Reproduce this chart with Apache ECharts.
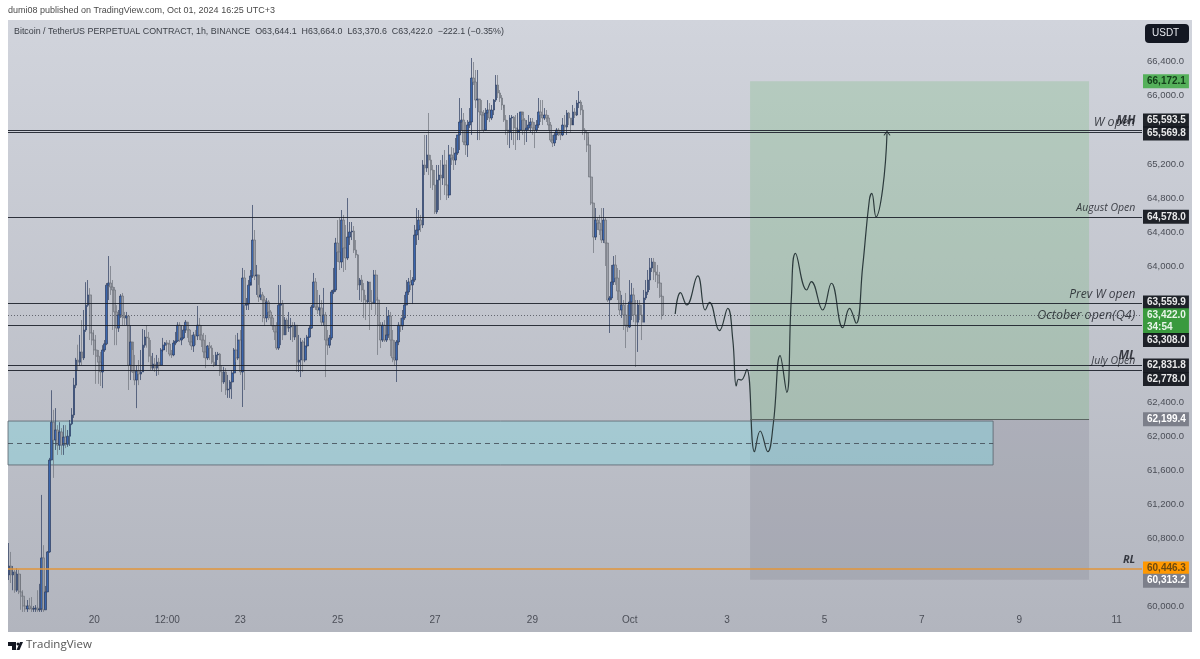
<!DOCTYPE html>
<html>
<head>
<meta charset="utf-8">
<style>html,body{margin:0;padding:0;background:#fff}#chart{width:1200px;height:659px}</style>
<script src="https://cdn.jsdelivr.net/npm/echarts@6/dist/echarts.min.js"></script>
</head>
<body>
<div id="chart"></div>
<script>
// hourly candles
let firstOpen = 60370;
let closes = [
60475,60370,60405,60190,60380,60170,60120,60005,59970,60005,
59980,59970,59970,59980,59960,59970,60570,59960,60170,60640,
61720,62165,61955,62073,61895,62050,61895,61990,61905,62000,
62145,62250,62600,62895,62870,62990,62920,63248,63540,63660,
63213,63130,63013,62940,62870,62755,63013,63085,63775,63800,
63753,63718,63460,63270,63425,63647,63400,63390,63412,62835,
63107,62755,62660,62765,62730,62755,63070,63165,63155,62940,
62800,62848,62800,62870,62835,63013,63070,63095,63083,62965,
62955,63095,63118,63305,63130,63155,63248,63340,63248,63107,
63060,63190,63178,63305,63190,63130,62990,62920,63060,63036,
62870,62835,62955,62965,62755,62637,62755,62543,62555,62637,
62743,63013,62920,63130,62755,63859,63540,63553,63775,63883,
64305,63883,63895,63635,63660,63600,63390,63577,63460,63390,
63295,63225,63036,63540,63553,63190,63365,63270,63283,63295,
63165,63305,62870,62895,63107,62895,63060,63165,63270,63518,
63812,63518,63483,63507,63340,63425,63130,63070,63155,63695,
63718,64270,64165,64047,64540,64212,64094,64340,64400,64410,
64188,64130,63777,63835,63718,63600,63577,63812,63577,63565,
63894,63600,63305,63130,63305,63130,63190,63412,63130,62920,
62895,63107,63305,63295,63390,63542,63695,63812,63777,63835,
64364,64423,64540,64482,65187,65152,65305,65245,65128,64952,
64635,65010,65069,65034,65187,64952,64834,65305,65269,65245,
65328,65540,65692,65715,65457,65422,65657,65692,66209,66162,
65950,65962,65810,65774,65598,65798,65833,65739,65833,65950,
66127,66033,65974,65892,65715,65598,65574,65739,65750,65621,
65574,65598,65810,65715,65598,65621,65657,65692,65621,65598,
65657,65810,65774,65739,65774,65739,65657,65480,65445,65540,
65598,65563,65540,65657,65633,65798,65739,65657,65810,65774,
65915,65927,65833,65598,65563,65422,65046,64740,64340,64540,
64505,64423,64305,64540,64270,63600,63624,63812,64012,63859,
63706,63483,63542,63425,63305,63283,63577,63660,63425,63340,
63542,63425,63340,63624,63695,63835,63976,64047,63930,63894,
63800,63644.1,63422.0];
let highs = [
60745,60640,60475,60430,60450,60430,60380,60190,60075,60075,
60100,60110,60005,60015,60190,60265,61310,60720,60240,60650,
61745,62540,62310,62330,62130,62165,62095,62130,62130,62073,
62190,62330,62685,62920,63075,63190,63365,63483,63810,63835,
63740,63565,63248,63190,63013,62990,63070,63130,63800,64117,
64000,63835,63753,63540,63483,63670,63683,63460,63460,63425,
63305,63013,62955,62835,62895,63013,63260,63248,63305,63225,
63130,62978,62920,62955,62920,63036,63155,63107,63130,63130,
63013,63130,63225,63340,63340,63305,63295,63365,63295,63260,
63190,63225,63248,63530,63390,63305,63213,63190,63070,63107,
63070,62955,62990,62990,62978,62835,62815,62800,62720,62660,
62778,63036,63190,63213,63248,63977,63953,63624,63835,63953,
64717,64423,64012,63777,63742,63695,63647,63624,63600,63483,
63425,63305,63340,63777,63777,63600,63400,63390,63460,63390,
63340,63340,63305,63190,63155,63130,63155,63190,63295,63542,
63918,63859,63718,63660,63600,63742,63460,63248,63190,63718,
63977,64330,64540,64564,64658,64600,64482,64798,64517,64517,
64470,64305,64141,63859,63894,63800,63660,63824,63800,63718,
63953,63953,63636,63340,63340,63365,63518,63483,63460,63248,
63130,63130,63340,63390,63483,63660,63835,63859,63953,63870,
64482,64681,64658,64600,65245,65540,65540,65798,65305,65187,
65128,65187,65187,65245,65305,65363,65245,65422,65398,65387,
65504,65540,65974,65856,65798,65692,65715,65856,66444,66397,
66303,66303,65950,65950,65833,65856,65950,65915,65892,65962,
66244,66244,66068,66009,65856,65774,65715,65774,65774,65762,
65774,65798,65810,65774,65739,65715,65774,65739,65739,65692,
65715,65974,65950,65950,65856,65833,65774,65692,65540,65574,
65621,65621,65598,65739,65774,65833,65810,65739,65892,65856,
65950,66056,65950,65892,65621,65598,65516,65046,64740,64681,
64564,64600,64681,64681,64564,64270,63647,64012,64117,64129,
63976,63953,63660,63600,63683,63542,63835,63800,63742,63600,
63600,63600,63542,63718,63835,63953,64094,64094,64094,64047,
64012,63930,63664.0];
let lows = [
60310,60275,60190,60160,60170,60145,59960,59935,59935,59935,
59960,59935,59935,59935,59935,59935,59935,59935,59960,60170,
60630,61720,61510,61838,61780,61838,61780,61780,61860,61875,
61885,62130,62215,62565,62778,62825,62835,62895,63225,63520,
63130,63070,62955,62615,62615,62590,62565,62990,63070,63600,
63660,63248,63070,63070,63225,63390,63305,63305,63305,62543,
62660,62743,62600,62330,62600,62660,62755,63040,63040,62870,
62778,62778,62755,62708,62720,62825,62990,63013,62990,62940,
62920,62940,63070,63107,63107,63070,63142,63213,63155,63070,
63013,62990,63070,63130,63130,63048,62920,62800,62895,62895,
62848,62813,62825,62895,62708,62520,62615,62485,62450,62450,
62438,62743,62870,62895,62720,62343,62543,63483,63483,63812,
63859,63835,63660,63577,63600,63340,63295,63340,63365,63305,
63248,63130,63013,63013,63070,63130,63190,63190,63225,63130,
63107,63130,62755,62755,62695,62755,62870,63036,63155,63260,
63507,63483,63436,63412,63295,63295,62695,62955,63036,63130,
63670,63695,64047,63953,63976,63930,63953,64070,64247,64305,
64153,64094,63718,63600,63577,63390,63365,63565,63248,63483,
63553,63425,62955,63036,63107,63107,63107,63155,62940,62870,
62835,62637,63070,63225,63248,63365,63542,63660,63718,63553,
63812,64247,64305,64400,64446,65069,65105,65069,64916,64893,
64611,64611,64658,64775,64952,64834,64775,64799,65187,65128,
65187,65305,65363,65598,65422,65305,65281,65622,65540,66127,
65856,65480,65480,65598,65574,65586,65715,65692,65715,65774,
65927,65974,65927,65833,65692,65540,65422,65386,65480,65422,
65363,65480,65480,65540,65422,65457,65598,65574,65540,65386,
65574,65622,65692,65657,65715,65692,65598,65457,65398,65410,
65480,65527,65480,65527,65563,65540,65657,65574,65715,65739,
65762,65856,65774,65540,65480,65339,65046,64716,64153,64305,
64423,64364,64270,64270,64000,63577,63213,63600,63777,63777,
63600,63425,63390,63248,63036,63225,63271,63365,63340,62813,
62990,63365,63130,63340,63600,63660,63718,63930,63835,63812,
63742,63624,63370.6];

// hand drawn projection, hours from the left edge and price
let pathHours = [328.9,331.5,334.6,340.0,343.7,345.8,350.7,354.8,357.3,359.0,360.1,361.4,364.2,368.0,370.8,374.5,377.3,380.6,383.9,386.1,388.2,393.7,396.0,401.6,405.9,411.5,414.8,418.1,421.3,424.6,425.8,427.9,431.2,433.3];
let pathPrices = [63436,63686,63542,63883,63483,63573,63240,63503,63130,62590,62669,62660,62786,61818,62061,61818,62155,62946,62516,63600,64149,63718,63816,63483,63797,63275,63503,63327,63992,64775,64854,64579,64913,65559];

// horizontal levels
let levelPrices = [65593.5,65569.8,64578.0,63559.9,63308.0,62831.8,62778.0];
let levelNotes = ['MH','W open','August Open','Prev W open','October open(Q4)','ML','July Open'];
let rlPrice = 60446.3;
let currentPrice = 63422.0;
let countdown = '34:54';

// long position tool and blue zone
let targetPrice = 66172.1, entryPrice = 62199.4, stopPrice = 60313.2;
let zoneTop = 62178, zoneBottom = 61662, zoneMid = 61920;
let toolHours = [365.8,532.9];
let zoneEndHour = 485.6;

// axes
let priceTicks = [60000,60800,61200,61600,62000,62400,64000,64400,64800,65200,66000,66400];
let timeTickHours = [42,78,114,162,210,258,306,354,402,450,498,546];
let timeTickNames = ['20','12:00','23','25','27','29','Oct','3','5','7','9','11'];

let publishLine = 'dumi08 published on TradingView.com, Oct 01, 2024 16:25 UTC+3';
let symbolLine = 'Bitcoin / TetherUS PERPETUAL CONTRACT, 1h, BINANCE  O63,644.1  H63,664.0  L63,370.6  C63,422.0  \u2212222.1 (\u22120.35%)';

let hourCount = 559;
let categories = [];
for (let i = 0; i < hourCount; i++) categories.push(String(i));

let candles = closes.map((c, i) => [i === 0 ? firstOpen : closes[i - 1], c, lows[i], highs[i]]);
let fmt = v => v.toLocaleString('en-US', {minimumFractionDigits: 1, maximumFractionDigits: 1});

const FONT = '"Liberation Sans", sans-serif';
const NOTE_FONT = '"Open Sans", sans-serif';
const DARK = '#131722';

// price tag on the scale; dy moves it off neighbours
function tag(value, bg, color, dy, line, text) {
    return {
        yAxis: value,
        lineStyle: line || {color: 'transparent', width: 0},
        label: {
            show: true, position: 'end', distance: 1,
            formatter: text || fmt(value),
            backgroundColor: bg, color: color, fontFamily: FONT, fontSize: 10, fontWeight: 'bold',
            lineHeight: 12, padding: [1, 3, 1, 4], align: 'left', offset: [0, dy]
        }
    };
}
let darkLine = {color: '#1c202a', width: 1.2, type: 'solid', opacity: 0.9};

let noteStyle = {
    'MH': {size: 12, weight: 'bold', dy: -10},
    'W open': {size: 12.5, weight: 'normal', dy: -10},
    'August Open': {size: 10.5, weight: 'normal', dy: -9},
    'Prev W open': {size: 12, weight: 'normal', dy: -9},
    'October open(Q4)': {size: 12.5, weight: 'normal', dy: -9},
    'ML': {size: 12, weight: 'bold', dy: -10},
    'July Open': {size: 10.5, weight: 'normal', dy: -9}
};
let noteData = levelPrices.map((p, i) => {
    let s = noteStyle[levelNotes[i]];
    return {
        value: [555.7, p],
        label: {formatter: levelNotes[i], fontSize: s.size, fontWeight: s.weight, offset: [0, s.dy]}
    };
});
noteData.push({value: [555.7, rlPrice], label: {formatter: 'RL', fontSize: 11, fontWeight: 'bold', offset: [0, -9]}});

let option = {
    animation: false,
    backgroundColor: '#fff',
    grid: {left: 8, right: 58, top: 20, bottom: 49},
    xAxis: [{
        type: 'category', data: categories, boundaryGap: true,
        axisLine: {show: false}, axisTick: {show: false}, splitLine: {show: false},
        axisLabel: {
            color: '#4b4e57', fontFamily: FONT, fontSize: 10, margin: 5,
            interval: i => timeTickHours.includes(i),
            formatter: (v, i) => timeTickNames[timeTickHours.indexOf(Number(v))] || ''
        }
    }, {
        type: 'value', min: 0, max: hourCount, show: false
    }],
    yAxis: {
        type: 'value', position: 'right', min: 59957.7, max: 66890.7, scale: true,
        axisLine: {show: false}, axisTick: {show: false}, splitLine: {show: false},
        axisLabel: {
            customValues: priceTicks, color: '#4b4e57', fontFamily: FONT, fontSize: 9.5,
            align: 'right', margin: 42,
            formatter: v => fmt(v)
        }
    },
    graphic: [
        {type: 'rect', z: -10, shape: {x: 8, y: 20, width: 1184, height: 612},
            style: {fill: {type: 'linear', x: 0, y: 0, x2: 0, y2: 1, colorStops: [{offset: 0, color: '#d1d4dc'}, {offset: 1, color: '#b2b5be'}]}}},
        {type: 'text', x: 8, y: 6, style: {text: publishLine, fill: '#4a4a4a', font: '9px "Liberation Sans", sans-serif'}},
        {type: 'text', x: 14, y: 27, style: {text: symbolLine, fill: '#3c4048', font: '8.9px "Liberation Sans", sans-serif'}},
        {type: 'rect', shape: {x: 1145, y: 24, width: 44, height: 19, r: 4}, style: {fill: DARK}},
        {type: 'text', x: 1152, y: 28, style: {text: 'USDT', fill: '#e6e8ee', font: '10px "Liberation Sans", sans-serif'}},
        // TradingView logo
        {type: 'polygon', shape: {points: [[8, 642], [16, 642], [16, 650], [12, 650], [12, 646], [8, 646]]}, style: {fill: DARK}},
        {type: 'circle', shape: {cx: 18, cy: 644, r: 1.5}, style: {fill: DARK}},
        {type: 'polygon', shape: {points: [[20, 642], [23, 642], [19.5, 650], [16.5, 650]]}, style: {fill: DARK}},
        {type: 'text', x: 26, y: 639, style: {text: 'TradingView', fill: '#555', font: '11.5px "Open Sans", sans-serif'}}
    ],
    series: [{
        // position tool and zone sit under the candles
        type: 'line', xAxisIndex: 1, data: [], z: 1, silent: true,
        markArea: {
            silent: true,
            data: [
                [{xAxis: toolHours[0], yAxis: targetPrice, itemStyle: {color: 'rgba(76,175,80,0.19)'}}, {xAxis: toolHours[1], yAxis: entryPrice}],
                [{xAxis: toolHours[0], yAxis: entryPrice, itemStyle: {color: 'rgba(110,112,125,0.2)'}}, {xAxis: toolHours[1], yAxis: stopPrice}],
                [{xAxis: 0, yAxis: zoneTop, itemStyle: {color: 'rgba(130,215,225,0.42)', borderColor: '#59626c', borderWidth: 0.8}}, {xAxis: zoneEndHour, yAxis: zoneBottom}]
            ]
        },
        markLine: {
            silent: true, symbol: 'none', animation: false, label: {show: false},
            data: [
                [{coord: [0, zoneMid], lineStyle: {color: '#3d4650', type: [5, 4], width: 0.8}}, {coord: [zoneEndHour, zoneMid]}],
                [{coord: [toolHours[0], entryPrice], lineStyle: {color: '#5a6460', type: 'solid', width: 1}}, {coord: [toolHours[1], entryPrice]}]
            ]
        }
    }, {
        type: 'candlestick', data: candles, barWidth: 2.2, z: 3,
        itemStyle: {color: '#3a66ae', color0: '#9c9fa8', borderColor: '#2d3c5e', borderColor0: '#6f727b', borderWidth: 0.7}
    }, {
        type: 'line', xAxisIndex: 1, z: 4, silent: true,
        data: pathHours.map((h, i) => [h, pathPrices[i]]),
        smooth: 0.45, symbol: 'none',
        lineStyle: {color: '#2c3a3c', width: 1.2},
        markPoint: {
            silent: true, symbol: 'path://M0 10 L5 0 L10 10', symbolSize: [6, 4], symbolKeepAspect: false,
            itemStyle: {color: 'rgba(0,0,0,0)', borderColor: '#2c3a3c', borderWidth: 1},
            label: {show: false},
            data: [{coord: [pathHours[pathHours.length - 1], pathPrices[pathPrices.length - 1]]}]
        }
    }, {
        // levels and the tags on the price scale
        type: 'line', data: [], z: 5, silent: true,
        markLine: {
            silent: true, symbol: 'none', animation: false, z: 6,
            data: [
                tag(targetPrice, '#55b05a', '#14401a', 0),
                tag(levelPrices[0], '#0c0f16', '#fff', -10, darkLine),
                tag(levelPrices[1], '#0c0f16', '#fff', 1, darkLine),
                tag(levelPrices[2], '#0c0f16', '#fff', 0, darkLine),
                tag(levelPrices[3], '#0c0f16', '#fff', -1, darkLine),
                tag(currentPrice, '#3a9a3e', '#e8f5e9', 6, {color: '#4b4f58', width: 0.8, type: [1, 2]}, fmt(currentPrice) + '\n' + countdown),
                tag(levelPrices[4], '#0c0f16', '#fff', 15, darkLine),
                tag(levelPrices[5], '#0c0f16', '#fff', 0, darkLine),
                tag(levelPrices[6], '#0c0f16', '#fff', 9, darkLine),
                tag(entryPrice, '#7c7f8a', '#fff', 0),
                tag(rlPrice, '#ff9800', '#6d4a10', 0, {color: '#e2963a', width: 1.6, type: 'solid'}),
                tag(stopPrice, '#7c7f8a', '#fff', 1)
            ]
        }
    }, {
        type: 'scatter', xAxisIndex: 1, z: 7, silent: true, symbolSize: 0,
        data: noteData,
        label: {show: true, position: 'left', distance: 0, color: '#15181f', fontFamily: NOTE_FONT, fontStyle: 'italic'}
    }]
};

let chart = echarts.init(document.getElementById('chart'), null, {renderer: 'canvas'});
chart.setOption(option);
</script>
</body>
</html>
